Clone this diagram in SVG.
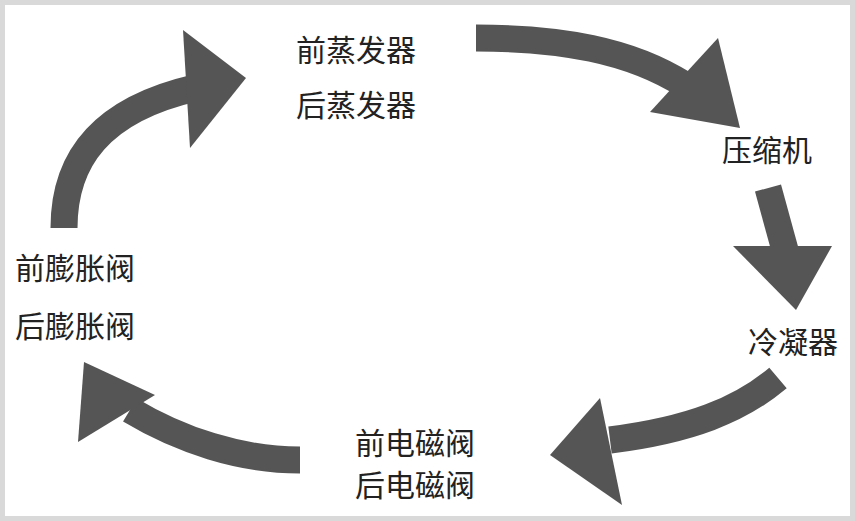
<svg xmlns="http://www.w3.org/2000/svg" width="855" height="521" viewBox="0 0 855 521">
<style>
.t{font-family:"Noto Sans CJK SC","Noto Sans CJK JP",sans-serif;font-size:30px;fill:#222}
.s{fill:none;stroke:#555;stroke-width:27}
.h{fill:#555}
</style>
<rect x="0" y="0" width="855" height="521" fill="#d9d9d9"/>
<rect x="5" y="5" width="845" height="511" fill="#fff"/>
<g id="connectors">
<path class="s" d="M476,38 C560,38 630,50 685,85"/>
<polygon class="h" points="718,38 650,112 740,128"/>
<path class="s" d="M768,188 L785,250"/>
<polygon class="h" points="733,246 832,246 796,310"/>
<path class="s" d="M778,378 C740,410 690,430 610,440"/>
<polygon class="h" points="600,398 550,455 622,505"/>
<path class="s" d="M300,460 C240,460 180,440 130,410"/>
<polygon class="h" points="84,362 78,442 155,395"/>
<path class="s" d="M64,228 C64,160 100,110 195,88"/>
<polygon class="h" points="183,30 246,78 190,148"/>
</g>
<g id="evap"><text class="t" x="296" y="61">前蒸发器</text><text class="t" x="296" y="116">后蒸发器</text></g>
<g id="comp"><text class="t" x="722" y="161">压缩机</text></g>
<g id="cond"><text class="t" x="748" y="353">冷凝器</text></g>
<g id="valve"><text class="t" x="355" y="454">前电磁阀</text><text class="t" x="355" y="496">后电磁阀</text></g>
<g id="exp"><text class="t" x="15" y="279">前膨胀阀</text><text class="t" x="15" y="337">后膨胀阀</text></g>
</svg>
